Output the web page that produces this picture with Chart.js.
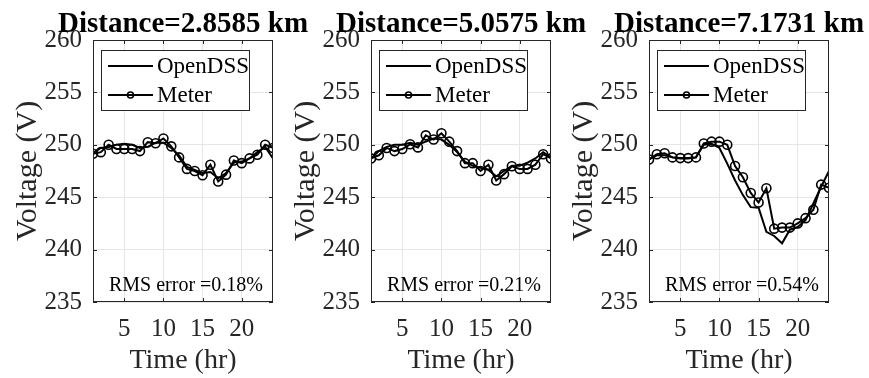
<!DOCTYPE html>
<html>
<head>
<meta charset="utf-8">
<script src="https://cdn.jsdelivr.net/npm/chart.js@4.4.1/dist/chart.umd.min.js"></script>
<style>
  body { margin: 0; background: #fff; }
  #wrap { position: relative; width: 869px; height: 378px; overflow: hidden; }
  canvas { position: absolute; top: 0; }
</style>
</head>
<body>
<div id="wrap">
  <canvas id="c1" width="310" height="378" style="left:0px"></canvas>
  <canvas id="c2" width="310" height="378" style="left:278px"></canvas>
  <canvas id="c3" width="310" height="378" style="left:556px"></canvas>
</div>
<script>
// hourly voltage, feeder model vs. meter readings at three distances
const hours = [1, 2, 3, 4, 5, 6, 7, 8, 9, 10, 11, 12, 13, 14, 15, 16, 17, 18, 19, 20, 21, 22, 23, 24];
const xTicks = [5, 10, 15, 20];
const yTicks = [235, 240, 245, 250, 255, 260];

const panelTitles = ['Distance=2.8585 km', 'Distance=5.0575 km', 'Distance=7.1731 km'];
const rmsLabels = ['RMS error =0.18%', 'RMS error =0.21%', 'RMS error =0.54%'];

const openDss1 = [249.2, 249.7, 249.8, 250.0, 250.1, 250.0, 249.7, 249.8, 250.2, 250.2, 249.7, 249.0,
                  247.9, 247.6, 247.3, 247.4, 246.8, 247.3, 248.3, 248.4, 248.7, 249.3, 249.8, 248.7];
const meter1   = [249.15, 249.3, 250.0, 249.6, 249.6, 249.6, 249.4, 250.25, 250.15, 250.6, 249.85, 248.8,
                  247.7, 247.5, 247.1, 248.1, 246.5, 247.15, 248.5, 248.25, 248.7, 249.05, 250.0, 249.7];

const openDss2 = [248.7, 249.4, 249.8, 250.0, 250.0, 250.2, 250.0, 250.3, 250.6, 250.5, 250.0, 249.3,
                  248.4, 248.0, 247.8, 247.6, 247.0, 247.5, 248.0, 248.0, 248.3, 248.7, 249.3, 248.8];
const meter2   = [248.7, 249.0, 249.7, 249.4, 249.6, 250.05, 249.75, 250.9, 250.5, 251.1, 250.3, 249.4,
                  248.25, 248.25, 247.5, 248.1, 246.6, 247.2, 247.95, 247.7, 247.7, 248.1, 249.1, 248.7];

const openDss3 = [248.6, 249.0, 249.0, 248.8, 248.7, 248.7, 248.8, 250.0, 250.1, 249.7, 248.2, 246.6,
                  245.2, 244.05, 244.0, 241.7, 241.3, 240.6, 241.9, 242.15, 242.8, 244.4, 246.0, 247.5];
const meter3   = [248.6, 249.1, 249.2, 248.8, 248.73, 248.73, 248.8, 250.13, 250.3, 250.3, 250.0, 247.97,
                  246.9, 245.4, 244.5, 245.85, 242.0, 242.1, 242.1, 242.5, 243.0, 243.8, 246.2, 245.9];

const axisColor = '#262626';
const serif = "'Liberation Serif', 'Times New Roman', serif";

function toPoints(values) {
  return hours.map((h, i) => ({x: h, y: values[i]}));
}

// draws the box, inward ticks, panel title, legend and error note
const panelDecor = {
  id: 'panelDecor',
  afterDraw(chart, args, opts) {
    const ctx = chart.ctx;
    const a = chart.chartArea;
    const xs = chart.scales.x, ys = chart.scales.y;
    ctx.save();
    ctx.strokeStyle = axisColor;
    ctx.lineWidth = 1;
    ctx.strokeRect(a.left + 0.5, a.top + 0.5, a.right - a.left - 1, a.bottom - a.top - 1);

    ctx.beginPath();
    xTicks.forEach(v => {
      const px = Math.round(xs.getPixelForValue(v)) + 0.5;
      ctx.moveTo(px, a.bottom); ctx.lineTo(px, a.bottom - 4);
      ctx.moveTo(px, a.top); ctx.lineTo(px, a.top + 4);
    });
    yTicks.forEach(v => {
      const py = Math.round(ys.getPixelForValue(v)) + 0.5;
      ctx.moveTo(a.left, py); ctx.lineTo(a.left + 4, py);
      ctx.moveTo(a.right, py); ctx.lineTo(a.right - 4, py);
    });
    ctx.stroke();

    const cx = (a.left + a.right) / 2;
    ctx.fillStyle = '#000';
    ctx.font = 'bold 29px ' + serif;
    ctx.textAlign = 'center';
    ctx.textBaseline = 'alphabetic';
    ctx.fillText(opts.title, cx, 32);

    ctx.font = '20px ' + serif;
    ctx.fillStyle = '#000';
    ctx.fillText(opts.rms, cx + 3, 291);

    // legend
    const lx = a.left + 8, ly = a.top + 10;
    ctx.fillStyle = '#fff';
    ctx.fillRect(lx, ly, 148, 60);
    ctx.strokeStyle = axisColor;
    ctx.strokeRect(lx + 0.5, ly + 0.5, 148, 60);
    ctx.font = '23px ' + serif;
    ctx.textAlign = 'left';
    ctx.textBaseline = 'middle';
    chart.data.datasets.forEach((ds, i) => {
      const ry = ly + 16 + i * 29;
      ctx.strokeStyle = ds.borderColor;
      ctx.lineWidth = ds.borderWidth;
      ctx.beginPath();
      ctx.moveTo(lx + 7, ry);
      ctx.lineTo(lx + 52, ry);
      ctx.stroke();
      if (ds.pointRadius > 0) {
        ctx.lineWidth = ds.pointBorderWidth;
        ctx.beginPath();
        ctx.arc(lx + 29.5, ry, 3, 0, Math.PI * 2);
        ctx.stroke();
      }
      ctx.fillStyle = '#000';
      ctx.fillText(ds.label, lx + 56, ry + 1);
    });
    ctx.restore();
  }
};

function drawPanel(canvasId, idx, dssValues, meterValues) {
  const ctx = document.getElementById(canvasId);
  return new Chart(ctx, {
    type: 'line',
    data: {
      datasets: [
        {
          label: 'OpenDSS',
          data: toPoints(dssValues),
          borderColor: '#000',
          borderWidth: 2,
          pointRadius: 0,
          fill: false
        },
        {
          label: 'Meter',
          data: toPoints(meterValues),
          borderColor: '#000',
          borderWidth: 2,
          pointRadius: 4.5,
          pointBorderWidth: 1.6,
          pointBorderColor: '#000',
          pointBackgroundColor: 'rgba(0,0,0,0)',
          fill: false
        }
      ]
    },
    options: {
      responsive: false,
      animation: false,
      devicePixelRatio: 1,
      layout: {padding: {top: 40, right: 37, left: 0, bottom: 0}},
      plugins: {
        legend: {display: false},
        tooltip: {enabled: false},
        panelDecor: {title: panelTitles[idx], rms: rmsLabels[idx]}
      },
      scales: {
        x: {
          type: 'linear',
          min: 1,
          max: 24,
          afterBuildTicks: s => { s.ticks = xTicks.map(v => ({value: v})); },
          afterFit: s => { s.height = 76; },
          grid: {color: '#e6e6e6', drawTicks: false},
          border: {display: false},
          ticks: {color: axisColor, font: {family: serif, size: 25}, padding: 12, maxRotation: 0},
          title: {display: true, text: 'Time (hr)', color: axisColor,
                  font: {family: serif, size: 28}, padding: {top: 0, bottom: 1}}
        },
        y: {
          min: 235,
          max: 260,
          afterBuildTicks: s => { s.ticks = yTicks.map(v => ({value: v})); },
          afterFit: s => { s.width = 93; },
          grid: {color: '#e6e6e6', drawTicks: false},
          border: {display: false},
          ticks: {color: axisColor, font: {family: serif, size: 25}, padding: 11},
          title: {display: true, text: 'Voltage (V)', color: axisColor,
                  font: {family: serif, size: 30}, padding: {top: 10, bottom: 0}}
        }
      }
    },
    plugins: [panelDecor]
  });
}

drawPanel('c1', 0, openDss1, meter1);
drawPanel('c2', 1, openDss2, meter2);
drawPanel('c3', 2, openDss3, meter3);
</script>
</body>
</html>
